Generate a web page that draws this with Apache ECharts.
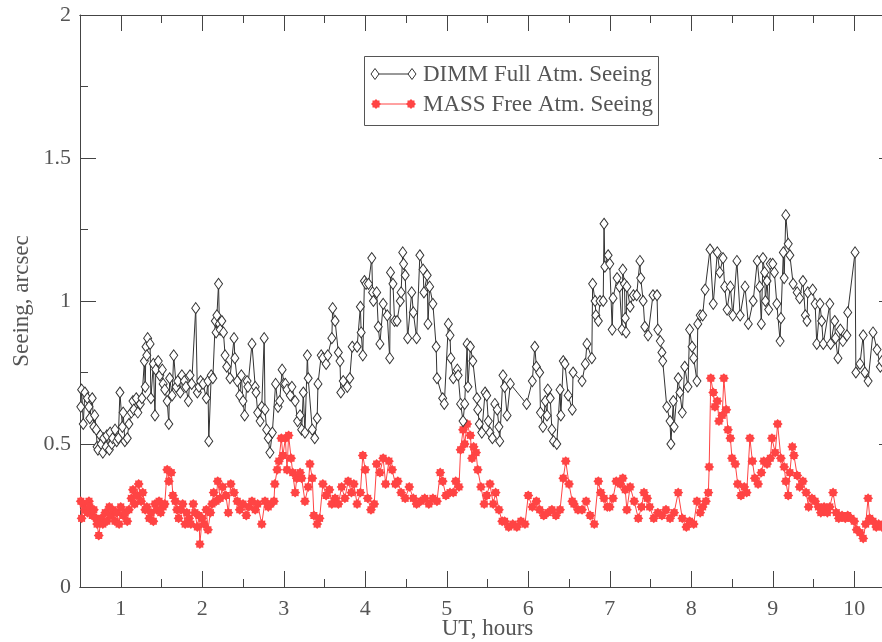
<!DOCTYPE html>
<html>
<head>
<meta charset="utf-8">
<script src="https://cdn.jsdelivr.net/npm/echarts@6/dist/echarts.min.js"></script>
<style>
  html, body { margin: 0; padding: 0; background: #fff; overflow: hidden; }
  #chart { width: 882px; height: 642px; }
</style>
</head>
<body>
<div id="chart"></div>
<script>
// [UT hours, seeing arcsec]
const dimm = [
  [0.51,0.63],[0.52,0.69],[0.54,0.57],[0.56,0.68],[0.59,0.66],[0.61,0.63],[0.62,0.59],[0.65,0.66],[0.67,0.56],[0.68,0.60],
  [0.70,0.55],[0.71,0.49],[0.72,0.48],[0.75,0.53],[0.76,0.50],[0.78,0.47],[0.79,0.52],[0.82,0.49],[0.83,0.53],[0.86,0.48],
  [0.87,0.54],[0.89,0.50],[0.90,0.52],[0.93,0.55],[0.95,0.51],[0.97,0.52],[0.99,0.68],[1.02,0.56],[1.03,0.61],[1.05,0.51],
  [1.08,0.52],[1.10,0.57],[1.13,0.61],[1.15,0.65],[1.16,0.62],[1.19,0.66],[1.21,0.61],[1.24,0.64],[1.26,0.66],[1.29,0.79],
  [1.30,0.70],[1.31,0.84],[1.32,0.81],[1.33,0.87],[1.36,0.85],[1.37,0.66],[1.40,0.78],[1.42,0.60],[1.43,0.76],[1.46,0.79],
  [1.48,0.74],[1.51,0.76],[1.52,0.71],[1.54,0.69],[1.57,0.65],[1.59,0.57],[1.60,0.73],[1.63,0.67],[1.65,0.81],[1.68,0.70],
  [1.70,0.72],[1.73,0.68],[1.75,0.74],[1.78,0.72],[1.80,0.70],[1.83,0.65],[1.85,0.74],[1.87,0.71],[1.92,0.975],[1.94,0.68],
  [1.96,0.70],[1.98,0.72],[2.01,0.71],[2.05,0.66],[2.07,0.72],[2.08,0.51],[2.11,0.74],[2.13,0.73],[2.16,0.93],[2.17,0.89],
  [2.18,0.95],[2.20,1.06],[2.21,0.92],[2.22,0.90],[2.24,0.93],[2.26,0.89],[2.28,0.81],[2.30,0.77],[2.34,0.73],[2.39,0.87],
  [2.40,0.80],[2.43,0.72],[2.46,0.67],[2.48,0.74],[2.50,0.65],[2.52,0.60],[2.55,0.72],[2.56,0.70],[2.61,0.85],[2.65,0.70],
  [2.66,0.68],[2.68,0.61],[2.71,0.58],[2.73,0.63],[2.76,0.87],[2.77,0.62],[2.79,0.55],[2.81,0.52],[2.83,0.47],[2.86,0.54],
  [2.90,0.71],[2.93,0.63],[2.95,0.65],[2.98,0.76],[3.00,0.71],[3.02,0.71],[3.04,0.69],[3.08,0.67],[3.10,0.70],[3.14,0.65],
  [3.17,0.58],[3.20,0.60],[3.22,0.55],[3.24,0.68],[3.26,0.54],[3.29,0.81],[3.30,0.73],[3.35,0.55],[3.38,0.52],[3.41,0.59],
  [3.42,0.71],[3.46,0.81],[3.48,0.80],[3.52,0.78],[3.54,0.81],[3.59,0.87],[3.60,0.975],[3.63,0.93],[3.67,0.82],[3.69,0.79],
  [3.70,0.68],[3.73,0.72],[3.78,0.70],[3.81,0.73],[3.84,0.84],[3.90,0.84],[3.94,0.98],[3.95,0.89],[3.97,0.81],[3.99,1.07],
  [4.01,1.06],[4.04,1.06],[4.08,1.15],[4.09,1.03],[4.10,1.00],[4.14,1.03],[4.16,0.91],[4.18,0.85],[4.22,0.99],[4.27,0.95],
  [4.30,0.80],[4.31,1.10],[4.34,1.06],[4.36,0.93],[4.39,0.93],[4.43,1.00],[4.44,1.03],[4.46,1.17],[4.47,1.13],[4.49,1.09],
  [4.52,0.87],[4.57,1.03],[4.59,0.96],[4.63,0.87],[4.67,1.16],[4.71,1.11],[4.72,1.03],[4.76,1.09],[4.77,0.92],[4.79,1.05],
  [4.83,0.99],[4.87,0.84],[4.88,0.73],[4.95,0.66],[4.97,0.64],[5.02,0.92],[5.04,0.88],[5.05,0.80],[5.08,0.73],[5.13,0.76],
  [5.14,0.74],[5.17,0.64],[5.20,0.58],[5.22,0.64],[5.25,0.85],[5.26,0.70],[5.29,0.84],[5.32,0.79],[5.37,0.66],[5.38,0.62],
  [5.40,0.57],[5.43,0.54],[5.47,0.68],[5.49,0.67],[5.51,0.58],[5.53,0.54],[5.56,0.52],[5.59,0.64],[5.62,0.62],[5.64,0.56],
  [5.65,0.51],[5.69,0.74],[5.71,0.70],[5.74,0.60],[5.78,0.71],[5.98,0.64],[6.05,0.72],[6.08,0.84],[6.10,0.77],[6.14,0.75],
  [6.15,0.61],[6.18,0.56],[6.21,0.65],[6.23,0.60],[6.24,0.69],[6.27,0.66],[6.29,0.55],[6.31,0.51],[6.35,0.50],[6.39,0.69],
  [6.40,0.60],[6.43,0.79],[6.45,0.78],[6.49,0.67],[6.54,0.62],[6.55,0.75],[6.66,0.72],[6.70,0.78],[6.72,0.85],[6.78,0.80],
  [6.79,1.06],[6.82,1.00],[6.83,0.95],[6.86,0.93],[6.88,1.00],[6.92,1.00],[6.93,1.27],[6.94,1.12],[6.98,1.16],[7.00,1.13],
  [7.03,0.90],[7.04,1.01],[7.09,1.08],[7.12,1.05],[7.15,0.90],[7.16,1.11],[7.18,1.06],[7.19,0.94],[7.20,0.89],[7.21,1.05],
  [7.25,0.98],[7.29,1.02],[7.33,1.02],[7.37,1.14],[7.38,1.08],[7.41,1.00],[7.43,0.91],[7.47,0.88],[7.53,1.02],[7.58,1.02],
  [7.59,0.90],[7.62,0.86],[7.64,0.82],[7.65,0.79],[7.70,0.63],[7.74,0.58],[7.75,0.50],[7.78,0.65],[7.79,0.56],[7.84,0.73],
  [7.86,0.68],[7.89,0.61],[7.92,0.77],[7.96,0.70],[7.98,0.90],[8.01,0.84],[8.03,0.80],[8.07,0.72],[8.08,0.92],[8.11,0.95],
  [8.14,0.95],[8.17,1.04],[8.23,1.18],[8.27,0.99],[8.32,1.17],[8.35,1.10],[8.39,1.15],[8.41,1.05],[8.44,0.97],[8.48,1.05],
  [8.51,0.95],[8.56,1.14],[8.60,0.95],[8.66,1.05],[8.70,0.92],[8.76,1.00],[8.81,1.14],[8.84,1.05],[8.86,0.92],[8.88,1.15],
  [8.90,1.10],[8.91,1.00],[8.93,1.07],[8.95,0.97],[8.97,1.13],[9.00,1.13],[9.02,1.10],[9.05,0.99],[9.09,0.86],[9.10,0.94],
  [9.13,1.17],[9.14,1.08],[9.16,1.30],[9.19,1.20],[9.21,1.16],[9.25,1.06],[9.30,1.03],[9.33,1.01],[9.37,1.07],[9.40,0.95],
  [9.42,0.93],[9.43,1.03],[9.49,1.04],[9.52,0.99],[9.54,0.85],[9.58,0.99],[9.60,0.93],[9.62,0.85],[9.70,0.99],[9.71,0.85],
  [9.76,0.93],[9.77,0.87],[9.80,0.80],[9.83,0.90],[9.86,0.86],[9.91,0.88],[9.92,0.96],[10.01,1.17],[10.02,0.75],[10.07,0.78],
  [10.11,0.88],[10.13,0.75],[10.17,0.72],[10.23,0.89],[10.28,0.83],[10.32,0.77],[10.34,0.79]
]

const mass = [
  [0.51,0.30],[0.52,0.24],[0.54,0.29],[0.56,0.27],[0.59,0.26],[0.61,0.30],[0.62,0.28],[0.65,0.25],[0.67,0.27],[0.70,0.24],
  [0.71,0.22],[0.73,0.18],[0.76,0.24],[0.78,0.22],[0.81,0.26],[0.83,0.23],[0.86,0.28],[0.88,0.25],[0.90,0.27],[0.93,0.23],
  [0.95,0.26],[0.98,0.22],[1.00,0.28],[1.03,0.25],[1.05,0.26],[1.08,0.23],[1.10,0.27],[1.13,0.31],[1.15,0.34],[1.17,0.29],
  [1.20,0.32],[1.22,0.36],[1.25,0.30],[1.27,0.33],[1.30,0.27],[1.32,0.28],[1.35,0.24],[1.37,0.26],[1.40,0.23],[1.42,0.29],
  [1.44,0.27],[1.47,0.30],[1.49,0.26],[1.52,0.28],[1.54,0.29],[1.57,0.41],[1.59,0.37],[1.62,0.40],[1.64,0.32],[1.67,0.30],
  [1.69,0.27],[1.71,0.24],[1.74,0.27],[1.76,0.29],[1.79,0.22],[1.81,0.26],[1.84,0.24],[1.86,0.22],[1.89,0.29],[1.91,0.26],
  [1.94,0.21],[1.96,0.25],[1.97,0.15],[2.00,0.24],[2.02,0.22],[2.05,0.27],[2.07,0.20],[2.10,0.26],[2.12,0.29],[2.14,0.33],
  [2.17,0.30],[2.19,0.37],[2.22,0.31],[2.25,0.35],[2.29,0.32],[2.32,0.26],[2.35,0.36],[2.39,0.33],[2.43,0.30],[2.46,0.27],
  [2.50,0.29],[2.54,0.25],[2.57,0.28],[2.61,0.30],[2.65,0.27],[2.68,0.29],[2.73,0.22],[2.77,0.30],[2.81,0.28],[2.84,0.29],
  [2.88,0.30],[2.89,0.36],[2.92,0.41],[2.94,0.44],[2.97,0.52],[2.99,0.46],[3.02,0.52],[3.04,0.41],[3.06,0.53],[3.09,0.45],
  [3.11,0.40],[3.14,0.33],[3.16,0.38],[3.20,0.40],[3.22,0.38],[3.26,0.30],[3.30,0.35],[3.32,0.43],[3.35,0.38],[3.37,0.25],
  [3.41,0.22],[3.44,0.24],[3.48,0.36],[3.52,0.32],[3.56,0.34],[3.59,0.29],[3.63,0.31],[3.67,0.29],[3.71,0.35],[3.75,0.31],
  [3.79,0.37],[3.83,0.33],[3.86,0.36],[3.90,0.29],[3.94,0.33],[3.97,0.46],[4.00,0.41],[4.03,0.31],[4.07,0.27],[4.11,0.29],
  [4.14,0.43],[4.18,0.40],[4.22,0.45],[4.25,0.36],[4.29,0.44],[4.33,0.41],[4.37,0.36],[4.40,0.37],[4.44,0.33],[4.49,0.31],
  [4.54,0.35],[4.59,0.31],[4.63,0.29],[4.68,0.30],[4.73,0.31],[4.78,0.29],[4.83,0.31],[4.88,0.30],[4.92,0.40],[4.95,0.37],
  [4.99,0.32],[5.04,0.33],[5.08,0.33],[5.11,0.37],[5.15,0.35],[5.17,0.48],[5.20,0.55],[5.22,0.50],[5.25,0.57],[5.29,0.53],
  [5.31,0.45],[5.33,0.49],[5.36,0.47],[5.38,0.41],[5.42,0.35],[5.46,0.29],[5.49,0.32],[5.53,0.36],[5.57,0.29],[5.60,0.33],
  [5.64,0.27],[5.68,0.23],[5.71,0.23],[5.76,0.21],[5.81,0.22],[5.86,0.21],[5.91,0.23],[5.96,0.22],[6.00,0.32],[6.05,0.28],
  [6.10,0.30],[6.14,0.27],[6.19,0.25],[6.24,0.26],[6.29,0.27],[6.34,0.25],[6.39,0.27],[6.43,0.38],[6.46,0.44],[6.50,0.36],
  [6.54,0.30],[6.56,0.29],[6.61,0.27],[6.66,0.27],[6.71,0.30],[6.76,0.25],[6.81,0.22],[6.86,0.37],[6.89,0.33],[6.93,0.31],
  [6.97,0.28],[7.00,0.28],[7.04,0.31],[7.08,0.37],[7.13,0.36],[7.16,0.38],[7.19,0.34],[7.21,0.27],[7.25,0.35],[7.30,0.30],
  [7.35,0.24],[7.39,0.28],[7.42,0.33],[7.46,0.31],[7.49,0.28],[7.54,0.24],[7.59,0.26],[7.64,0.25],[7.69,0.27],[7.74,0.24],
  [7.79,0.26],[7.84,0.33],[7.89,0.24],[7.94,0.21],[7.98,0.23],[8.03,0.22],[8.07,0.30],[8.11,0.26],[8.14,0.28],[8.18,0.30],
  [8.21,0.33],[8.22,0.42],[8.24,0.73],[8.27,0.68],[8.29,0.63],[8.32,0.65],[8.34,0.58],[8.38,0.60],[8.40,0.73],[8.43,0.62],
  [8.45,0.55],[8.48,0.52],[8.50,0.45],[8.54,0.43],[8.57,0.36],[8.61,0.32],[8.65,0.35],[8.68,0.33],[8.72,0.52],[8.75,0.44],
  [8.78,0.38],[8.82,0.36],[8.86,0.40],[8.89,0.44],[8.93,0.43],[8.97,0.45],[8.99,0.52],[9.03,0.47],[9.06,0.57],[9.10,0.45],
  [9.14,0.42],[9.16,0.37],[9.19,0.32],[9.21,0.40],[9.24,0.49],[9.26,0.46],[9.30,0.39],[9.33,0.35],[9.37,0.37],[9.41,0.33],
  [9.44,0.28],[9.48,0.31],[9.52,0.30],[9.56,0.28],[9.59,0.26],[9.63,0.28],[9.67,0.26],[9.70,0.28],[9.74,0.33],[9.78,0.26],
  [9.81,0.24],[9.85,0.25],[9.89,0.24],[9.92,0.25],[9.96,0.24],[10.00,0.23],[10.03,0.20],[10.07,0.19],[10.11,0.17],[10.14,0.22],
  [10.17,0.31],[10.19,0.24],[10.23,0.23],[10.27,0.21],[10.30,0.22],[10.34,0.21]
]

const hourTicks = [1, 2, 3, 4, 5, 6, 7, 8, 9, 10]
const halfTicks = [1.5, 2.5, 3.5, 4.5, 5.5, 6.5, 7.5, 8.5, 9.5, 10.5]
const legendNames = ['DIMM Full Atm. Seeing', 'MASS Free Atm. Seeing']

const FONT = 'Liberation Serif'
const AXIS_COLOR = '#444'
const TEXT_COLOR = '#555'
const DIMM_COLOR = '#333'
const MASS_COLOR = '#ff4444'
const STAR = 'path://M200,100 L169,129 L171,171 L129,169 L100,200 L71,169 L29,171 L31,129 L0,100 L31,71 L29,29 L71,31 L100,0 L129,31 L171,29 L169,71 Z'

const xAxisBase = (position, ticks, len, withLabels) => ({
  type: 'value',
  position: position,
  min: 0.5,
  max: 10.5,
  splitLine: { show: false },
  axisLine: { show: true, onZero: false, lineStyle: { color: AXIS_COLOR, width: 1 } },
  axisTick: {
    show: true,
    inside: true,
    length: len,
    customValues: ticks,
    lineStyle: { color: AXIS_COLOR, width: 1 },
  },
  axisLabel: withLabels ? {
    show: true,
    customValues: hourTicks,
    margin: 11,
    color: TEXT_COLOR,
    fontFamily: FONT,
    fontSize: 22,
  } : { show: false },
})

const yAxisBase = (position, withLabels) => ({
  type: 'value',
  position: position,
  min: 0,
  max: 2,
  interval: 0.5,
  splitLine: { show: false },
  axisLine: { show: true, lineStyle: { color: AXIS_COLOR, width: 1 } },
  axisTick: { show: true, inside: true, length: 16, lineStyle: { color: AXIS_COLOR } },
  minorTick: { show: true, splitNumber: 2, length: 8, lineStyle: { color: AXIS_COLOR } },
  axisLabel: withLabels ? {
    show: true,
    margin: 9,
    color: TEXT_COLOR,
    fontFamily: FONT,
    fontSize: 22,
    formatter: (v) => String(v),
  } : { show: false },
})

const diamondPts = (cx, cy) => [[cx, cy - 5.5], [cx + 4, cy], [cx, cy + 5.5], [cx - 4, cy]]
const starPts = (cx, cy, r) => {
  const pts = []
  for (let k = 0; k < 16; k++) {
    const a = k * Math.PI / 8
    const rr = k % 2 === 0 ? r : r * 0.75
    pts.push([cx + rr * Math.cos(a), cy + rr * Math.sin(a)])
  }
  return pts
}

const legendGraphic = () => [
  { type: 'rect', shape: { x: 364.5, y: 56.5, width: 294, height: 69 }, style: { fill: '#fff', stroke: '#555', lineWidth: 1 } },
  { type: 'line', shape: { x1: 375, y1: 74, x2: 412, y2: 74 }, style: { stroke: DIMM_COLOR, lineWidth: 1 } },
  { type: 'polygon', shape: { points: diamondPts(375, 74) }, style: { fill: '#fff', stroke: DIMM_COLOR, lineWidth: 1 } },
  { type: 'polygon', shape: { points: diamondPts(412, 74) }, style: { fill: '#fff', stroke: DIMM_COLOR, lineWidth: 1 } },
  { type: 'text', x: 423, y: 75, style: { text: legendNames[0], fill: TEXT_COLOR, font: '23px "Liberation Serif"', verticalAlign: 'middle' } },
  { type: 'line', shape: { x1: 376, y1: 104, x2: 411, y2: 104 }, style: { stroke: MASS_COLOR, lineWidth: 1 } },
  { type: 'polygon', shape: { points: starPts(376, 104, 5) }, style: { fill: MASS_COLOR } },
  { type: 'polygon', shape: { points: starPts(411, 104, 5) }, style: { fill: MASS_COLOR } },
  { type: 'text', x: 423, y: 105, style: { text: legendNames[1], fill: TEXT_COLOR, font: '23px "Liberation Serif"', verticalAlign: 'middle' } },
]

const chart = echarts.init(document.getElementById('chart'), null, { renderer: 'canvas' })

const setOptions = () => {
  chart.setOption({
    animation: false,
    backgroundColor: '#fff',
    grid: { left: 80, top: 15, width: 815, height: 572, containLabel: false, outerBoundsMode: 'none' },
    xAxis: [
      Object.assign(xAxisBase('bottom', hourTicks, 16, true), {
        name: 'UT, hours',
        nameLocation: 'middle',
        nameGap: 30,
        nameMoveOverlap: false,
        nameTextStyle: { color: TEXT_COLOR, fontFamily: FONT, fontSize: 23 },
      }),
      xAxisBase('bottom', halfTicks, 8, false),
      xAxisBase('top', hourTicks, 16, false),
      xAxisBase('top', halfTicks, 8, false),
    ],
    yAxis: [
      Object.assign(yAxisBase('left', true), {
        name: 'Seeing, arcsec',
        nameLocation: 'middle',
        nameGap: 47,
        nameMoveOverlap: false,
        nameTextStyle: { color: TEXT_COLOR, fontFamily: FONT, fontSize: 23 },
      }),
      yAxisBase('right', false),
    ],
    series: [
      {
        name: legendNames[0],
        type: 'line',
        data: dimm,
        showAllSymbol: true,
        symbol: 'diamond',
        symbolSize: [8, 11],
        lineStyle: { color: DIMM_COLOR, width: 1 },
        itemStyle: { color: '#fff', borderColor: DIMM_COLOR, borderWidth: 1 },
        emphasis: { disabled: true },
        z: 3,
      },
      {
        name: legendNames[1],
        type: 'line',
        data: mass,
        showAllSymbol: true,
        symbol: STAR,
        symbolSize: 10,
        lineStyle: { color: MASS_COLOR, width: 1 },
        itemStyle: { color: MASS_COLOR },
        emphasis: { disabled: true },
        z: 2,
      },
    ],
    graphic: legendGraphic(),
  })
}

setOptions()
</script>
</body>
</html>
